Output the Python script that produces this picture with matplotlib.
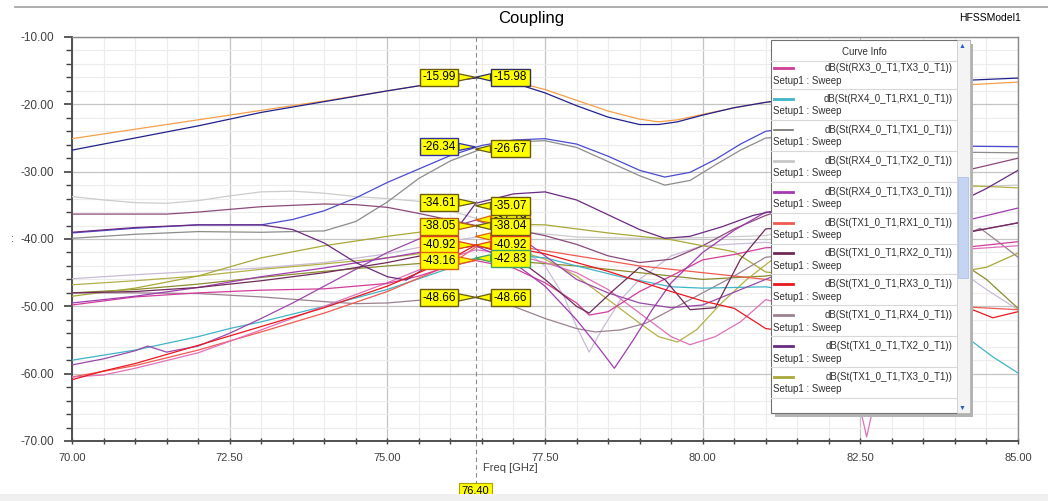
import matplotlib
matplotlib.use('agg')
import matplotlib.pyplot as plt
from matplotlib.patches import Rectangle

plt.rcParams['font.family'] = ['Liberation Sans', 'DejaVu Sans']

# --- curve data (freq GHz, dB) ---
f_orange = [70, 71, 72, 73, 74, 75, 76, 76.5, 77, 77.5, 78, 78.5, 79, 79.3, 79.6, 80, 80.5, 81, 82, 83, 84, 85]
db_orange = [-25.1, -23.7, -22.3, -20.9, -19.5, -18.0, -16.5, -16.0, -16.6, -17.8, -19.4, -21.0, -22.2, -22.6, -22.3,
             -21.5, -20.5, -19.7, -18.8, -17.9, -17.2, -16.7]

f_navy = [70, 71, 72, 73, 74, 75, 76, 76.5, 77, 77.5, 78, 78.5, 79, 79.3, 79.6, 80, 80.5, 81, 82, 83, 84, 85]
db_navy = [-26.8, -25.0, -23.2, -21.2, -19.6, -18.0, -16.5, -16.0, -16.8, -18.3, -20.2, -21.9, -23.0, -23.0, -22.6,
           -21.6, -20.5, -19.7, -18.4, -17.3, -16.5, -16.1]

f_blue = [70, 71, 72, 73, 73.5, 74, 74.5, 75, 75.5, 76, 76.5, 77, 77.5, 78, 78.5, 79, 79.4, 79.8, 80.2, 80.6, 81,
          81.5, 82, 83, 84, 85]
db_blue = [-39.1, -38.4, -37.9, -37.9, -37.1, -35.8, -33.9, -31.6, -29.6, -27.6, -26.1, -25.3, -25.1, -25.9, -27.7,
           -29.8, -30.8, -30.1, -28.2, -25.9, -24.0, -23.4, -23.9, -25.3, -26.2, -26.3]

f_gray = [70, 71, 72, 73, 74, 74.5, 75, 75.5, 76, 76.5, 77, 77.5, 78, 78.5, 79, 79.4, 79.8, 80.2, 80.6, 81, 81.5,
          82, 83, 84, 85]
db_gray = [-39.9, -39.3, -38.9, -39.0, -38.8, -37.4, -34.5, -31.0, -28.4, -26.6, -25.6, -25.4, -26.4, -28.5, -30.6,
           -32.0, -31.3, -29.0, -26.8, -25.0, -24.8, -25.5, -26.6, -27.1, -27.2]

f_rx4_tx2 = [70, 70.5, 71, 71.5, 72, 72.5, 73, 73.5, 74, 74.5, 75, 75.5, 76, 76.5, 77, 78, 79, 80, 81, 82, 83, 84, 85]
db_rx4_tx2 = [-33.7, -34.2, -34.6, -34.7, -34.3, -33.6, -33.0, -32.9, -33.2, -33.7, -34.0, -34.4, -35.8, -37.2,
              -38.8, -39.7, -39.9, -39.8, -39.5, -37.0, -34.0, -32.3, -32.0]

f_lav = [70, 71, 72, 73, 74, 75, 76, 76.5, 77, 77.5, 77.8, 78.0, 78.2, 78.4, 78.7, 79, 79.5, 80, 81, 82, 83, 84,
         84.5, 85]
db_lav = [-45.9, -45.3, -44.8, -44.3, -43.5, -42.2, -40.3, -39.6, -40.5, -44.0, -48.5, -53.0, -56.8, -53.5, -49.0,
          -46.0, -42.5, -41.0, -40.5, -41.5, -43.0, -44.2, -47.5, -50.5]

f_tx1_tx2 = [70, 71, 72, 73, 73.5, 74, 74.5, 75, 75.3, 75.6, 76, 76.4, 77, 77.5, 78, 78.5, 79, 79.4, 79.8, 80.3,
             80.8, 81.2, 82, 83, 84, 84.5, 85]
db_tx1_tx2 = [-39.0, -38.3, -37.9, -37.9, -38.6, -40.6, -43.5, -45.6, -46.1, -44.3, -39.8, -34.7, -33.3, -33.0,
              -34.2, -36.4, -38.6, -39.9, -39.6, -38.2, -36.5, -35.7, -35.5, -36.0, -34.8, -32.5, -29.8]

f_mauve = [70, 71, 71.5, 72, 73, 74, 74.5, 75, 75.5, 76, 76.4, 77, 77.5, 78, 78.5, 79, 79.5, 80, 80.5, 81, 82, 83,
           84, 85]
db_mauve = [-36.3, -36.3, -36.3, -36.0, -35.2, -34.8, -34.9, -35.3, -36.2, -37.2, -38.0, -38.6, -39.5, -40.8,
            -42.5, -43.5, -43.0, -41.0, -38.5, -36.5, -33.5, -31.5, -30.2, -28.0]

f_tx1_tx3 = [70, 71, 72, 73, 74, 75, 76, 76.4, 77, 77.5, 78.5, 79.5, 80.5, 81, 82, 83, 84, 84.5, 85]
db_tx1_tx3 = [-48.5, -47.3, -45.5, -42.8, -41.0, -39.6, -38.4, -38.0, -37.8, -37.9, -39.1, -40.1, -41.9, -44.9,
              -45.8, -45.5, -45.0, -44.2, -42.1]

f_olive2 = [70, 71, 72, 73, 74, 75, 76, 76.4, 77, 77.5, 78, 78.5, 79, 79.3, 79.6, 79.9, 80.3, 80.7, 81.1, 82, 83,
            84, 85]
db_olive2 = [-46.8, -46.2, -45.5, -44.5, -43.7, -42.8, -41.6, -40.9, -41.5, -43.0, -45.5, -49.0, -52.5, -54.5,
             -55.3, -53.5, -49.5, -46.0, -43.1, -38.0, -33.5, -32.0, -32.4]

f_olive3 = [70, 71, 72, 73, 74, 75, 76, 76.4, 77, 78, 79, 80, 81, 82, 83, 84, 84.5, 85]
db_olive3 = [-48.0, -47.5, -46.7, -45.7, -44.8, -44.0, -43.3, -43.0, -43.3, -44.0, -45.0, -46.0, -45.5, -44.0,
             -43.0, -42.9, -46.0, -50.3]

f_tx1_rx4 = [70, 71, 72, 73, 74, 74.5, 75, 75.5, 76, 76.4, 77, 77.5, 78, 78.3, 78.7, 79.1, 79.5, 80, 80.5, 81, 82,
             83, 84, 84.4, 84.7, 85]
db_tx1_rx4 = [-48.0, -48.0, -48.1, -48.6, -49.3, -49.6, -49.5, -49.1, -48.8, -48.7, -50.0, -51.8, -53.3, -53.8,
              -53.5, -52.5, -50.5, -48.0, -45.5, -42.7, -42.0, -41.5, -40.0, -38.4, -40.5, -42.7]

f_rx4_rx1 = [70, 71, 72, 72.5, 73, 74, 75, 76, 76.4, 77, 77.5, 78, 78.7, 79.5, 80, 81, 82, 83, 84.2, 84.6, 85]
db_rx4_rx1 = [-58.0, -56.5, -54.5, -53.3, -52.3, -50.0, -47.5, -44.3, -42.8, -42.4, -42.8, -44.0, -45.6, -47.1,
              -47.3, -47.1, -48.5, -51.0, -54.7, -57.5, -59.9]

f_tx1_rx3 = [70, 70.5, 71, 72, 73, 74, 75, 76, 76.4, 77, 77.5, 78, 78.5, 79, 79.5, 80, 80.5, 81, 82, 83, 84.2, 84.6,
             85]
db_tx1_rx3 = [-60.9, -59.6, -58.5, -55.8, -53.0, -50.2, -47.0, -43.0, -40.9, -41.3, -42.2, -43.5, -44.8, -46.3,
              -47.8, -49.2, -50.3, -53.3, -54.5, -52.5, -50.2, -51.7, -50.8]

f_tx1_rx1 = [70, 71, 72, 73, 74, 75, 76, 76.4, 77, 78, 79, 80, 81, 82, 83, 84, 85]
db_tx1_rx1 = [-60.5, -58.8, -56.5, -53.8, -51.0, -47.8, -43.8, -41.2, -41.0, -42.5, -44.0, -45.0, -46.0, -48.0,
              -49.5, -50.0, -50.5]

f_rx4_tx3 = [70, 71, 72, 73, 74, 75, 75.5, 76, 76.4, 77, 77.5, 78, 78.3, 78.6, 78.9, 79.2, 79.5, 80, 80.5, 81, 82,
             83, 84.2, 85]
db_rx4_tx3 = [-49.5, -48.5, -47.2, -45.6, -44.3, -42.8, -42.0, -41.5, -41.0, -43.5, -47.0, -52.0, -55.5, -59.2,
              -55.0, -50.5, -46.5, -42.0, -38.7, -36.0, -36.5, -37.0, -37.2, -35.4]

f_rx3_tx3 = [70, 71, 72, 73, 74, 75, 75.5, 76, 76.4, 77, 77.5, 78, 78.2, 78.5, 79, 79.5, 80, 80.5, 81, 82, 83, 84.2,
             85]
db_rx3_tx3 = [-49.8, -48.6, -48.0, -47.6, -47.4, -46.6, -45.5, -44.0, -43.2, -44.3, -46.5, -49.5, -51.3, -50.8,
              -47.8, -45.5, -43.1, -42.3, -41.3, -41.0, -41.0, -41.2, -40.4]

f_pink = [70, 70.5, 71, 72, 73, 74, 75, 75.5, 76, 76.4, 77, 77.5, 78, 78.5, 79, 79.5, 79.8, 80.2, 80.6, 81, 81.6,
          82.1, 82.4, 82.6, 82.8, 83.1, 83.6, 84.2, 85]
db_pink = [-60.5, -60.2, -59.2, -56.9, -53.5, -50.0, -46.5, -44.6, -42.8, -41.6, -42.3, -43.5, -45.0, -47.5, -51.0,
           -54.5, -55.7, -54.5, -52.3, -49.0, -50.5, -55.0, -61.0, -69.4, -61.0, -52.0, -45.0, -41.5, -41.0]

f_tx1_rx2 = [70, 71, 72, 73, 74, 75, 76, 76.4, 77, 77.5, 78, 78.2, 78.6, 79, 79.4, 79.8, 80.2, 80.6, 81, 82, 83,
             84.2, 85]
db_tx1_rx2 = [-48.0, -47.8, -47.2, -46.2, -45.0, -43.5, -41.6, -40.9, -42.5, -46.0, -50.0, -51.0, -47.5, -44.2,
              -46.0, -50.5, -50.2, -43.0, -38.5, -38.0, -38.5, -39.0, -37.6]

f_rx4_tx1 = [70, 70.5, 71, 71.2, 71.5, 72, 72.5, 73, 73.5, 74, 74.5, 75, 75.5, 76, 76.4, 77, 77.5, 78, 78.5, 79,
             79.5, 80, 81, 82, 83, 84.2, 85]
db_rx4_tx1 = [-58.7, -57.8, -56.6, -55.9, -56.8, -55.9, -54.0, -51.8, -49.5, -47.0, -44.5, -42.0, -40.0, -38.3,
              -37.2, -39.0, -42.5, -46.0, -48.0, -49.5, -50.2, -49.8, -46.0, -42.0, -40.0, -39.0, -37.6]

# marker readouts at 76.40 GHz
marker_freq = 76.40
left_vals = [-15.99, -26.34, -34.61, -38.05, -40.92, -43.16, -48.66]
right_vals = [-15.98, -26.67, -37.19, -39.62, -35.07, -38.04, -40.92, -42.83, -48.66]

legend_names = ['dB(St(RX3_0_T1,TX3_0_T1))', 'dB(St(RX4_0_T1,RX1_0_T1))', 'dB(St(RX4_0_T1,TX1_0_T1))',
                'dB(St(RX4_0_T1,TX2_0_T1))', 'dB(St(RX4_0_T1,TX3_0_T1))', 'dB(St(TX1_0_T1,RX1_0_T1))',
                'dB(St(TX1_0_T1,RX2_0_T1))', 'dB(St(TX1_0_T1,RX3_0_T1))', 'dB(St(TX1_0_T1,RX4_0_T1))',
                'dB(St(TX1_0_T1,TX2_0_T1))', 'dB(St(TX1_0_T1,TX3_0_T1))']
legend_colors = ['#d23c9a', '#40b4c8', '#707070', '#c8c8c8', '#a03cb0', '#f05a50',
                 '#6e2a58', '#e81820', '#9a8290', '#6a2a80', '#a8a838']

curves = [
    (f_rx4_tx2, db_rx4_tx2, '#cccccc'),
    (f_lav, db_lav, '#c8bcd6'),
    (f_gray, db_gray, '#8c8c8c'),
    (f_orange, db_orange, '#f5a04a'),
    (f_blue, db_blue, '#4a4ad0'),
    (f_navy, db_navy, '#22208c'),
    (f_mauve, db_mauve, '#8a4a7a'),
    (f_olive3, db_olive3, '#8c8c30'),
    (f_olive2, db_olive2, '#b4b048'),
    (f_tx1_tx3, db_tx1_tx3, '#a8a838'),
    (f_tx1_rx4, db_tx1_rx4, '#9a8290'),
    (f_rx4_rx1, db_rx4_rx1, '#40b4c8'),
    (f_tx1_rx1, db_tx1_rx1, '#f05a50'),
    (f_pink, db_pink, '#e070b8'),
    (f_rx3_tx3, db_rx3_tx3, '#d23c9a'),
    (f_rx4_tx1, db_rx4_tx1, '#9a4aa8'),
    (f_rx4_tx3, db_rx4_tx3, '#a03cb0'),
    (f_tx1_rx2, db_tx1_rx2, '#6e2a58'),
    (f_tx1_tx2, db_tx1_tx2, '#6a2a80'),
    (f_tx1_rx3, db_tx1_rx3, '#e81820'),
]

W, H = 1048, 501
fig = plt.figure(figsize=(W / 100, H / 100), dpi=100)
fig.patch.set_facecolor('white')
ax = fig.add_axes([72 / W, 1 - 441 / H, 946 / W, 404 / H])

for f, db, col in curves:
    ax.plot(f, db, color=col, lw=0.9, zorder=3)

ax.set_xlim(70, 85)
ax.set_ylim(-70, -10)
ax.set_xticks([70, 72.5, 75, 77.5, 80, 82.5, 85])
ax.set_xticks([70 + 0.5 * i for i in range(31)], minor=True)
ax.set_yticks(range(-70, -9, 10))
ax.set_yticks(range(-70, -9, 2), minor=True)
ax.xaxis.set_major_formatter(matplotlib.ticker.FormatStrFormatter('%.2f'))
ax.yaxis.set_major_formatter(matplotlib.ticker.FormatStrFormatter('%.2f'))
ax.grid(which='minor', color='#ececec', lw=0.8, zorder=0)
ax.grid(which='major', color='#c4c4c4', lw=0.9, zorder=0)
ax.set_axisbelow(True)
ax.tick_params(axis='y', which='major', length=6, width=1.2, pad=7, labelsize=8.5, colors='#404040')
ax.tick_params(axis='y', which='minor', length=4, width=1.0, colors='#404040')
ax.tick_params(axis='x', which='both', direction='inout', length=5, width=1.0, pad=6, labelsize=8, colors='#404040')
for side in ('left', 'bottom'):
    ax.spines[side].set_color('#505050')
    ax.spines[side].set_linewidth(1.4)
for side in ('top', 'right'):
    ax.spines[side].set_color('#8a8a8a')
    ax.spines[side].set_linewidth(1.0)

# marker line
ax.plot([marker_freq, marker_freq], [-10, -76.3], ls=(0, (4, 3)), color='#8a8a8a', lw=0.8,
        clip_on=False, zorder=4)
ax.text(marker_freq, -77.4, '%.2f' % marker_freq, ha='center', va='center', fontsize=8,
        bbox=dict(boxstyle='square,pad=0.25', fc='#ffff00', ec='#b0a000', lw=0.8), zorder=7, clip_on=False)

left_pos = [-16.0, -26.3, -34.6, -38.1, -40.9, -43.2, -48.7]
right_pos = [-16.0, -26.6, -36.95, -39.65, -35.1, -38.1, -40.9, -42.9, -48.7]
left_edge = ['#6a5a10', '#3030a0', '#6a5a10', '#b06010', '#e04010', '#e06010', '#6a5a10']
right_edge = ['#303060', '#6a5a10', '#e06010', '#e06010', '#6a5a10', '#6a5a10', '#e04010', '#40a060', '#6a5a10']

for v, p, ec in zip(left_vals, left_pos, left_edge):
    ax.annotate('%.2f' % v, xy=(marker_freq, v), xytext=(75.82, p), ha='center', va='center',
                fontsize=8.5, zorder=8,
                bbox=dict(boxstyle='square,pad=0.22', fc='#ffff00', ec=ec, lw=1.0),
                arrowprops=dict(arrowstyle='wedge,tail_width=0.6', fc='#ffff00', ec=ec, lw=0.9,
                                shrinkA=0, shrinkB=0))
for k, (v, p, ec) in enumerate(zip(right_vals, right_pos, right_edge)):
    ax.annotate('%.2f' % v, xy=(marker_freq, v), xytext=(76.95, p), ha='center', va='center',
                fontsize=8.5, zorder=7 if k in (2, 3) else 8,
                bbox=dict(boxstyle='square,pad=0.22', fc='#ffff00', ec=ec, lw=1.0),
                arrowprops=dict(arrowstyle='wedge,tail_width=0.6', fc='#ffff00', ec=ec, lw=0.9,
                                shrinkA=0, shrinkB=0))

ax.set_xlabel('Freq [GHz]', fontsize=8, color='#404040', labelpad=3)
ax.xaxis.set_label_coords((510 - 72) / 946, -0.055)

# overlay in pixel coordinates for window decorations and the curve info box
ov = fig.add_axes([0, 0, 1, 1], zorder=10)
ov.set_xlim(0, W)
ov.set_ylim(H, 0)
ov.axis('off')

ov.plot([15, W], [7, 7], color='#a0a0a0', lw=1.2)
ov.text(531, 18, 'Coupling', ha='center', va='center', fontsize=12)
ov.text(990, 18, 'HFSSModel1', ha='center', va='center', fontsize=7.5)
ov.text(13, 239, ':', ha='center', va='center', fontsize=8, color='#404040')
ov.add_patch(Rectangle((0, 494), W, 7, fc='#f0f0f0', ec='none'))

# curve info box
ov.add_patch(Rectangle((775, 44), 198, 373, fc='#b4b4b4', ec='none'))
ov.add_patch(Rectangle((771, 40), 199, 373, fc='white', ec='#707070', lw=0.8))
ov.add_patch(Rectangle((957, 40), 13, 373, fc='#f4f4f4', ec='#c0c0c0', lw=0.5))
ov.add_patch(Rectangle((958, 177), 10, 101, fc='#c4d4f2', ec='#a8bce0', lw=0.5))
ov.text(962.5, 46, '▲', ha='center', va='center', fontsize=5, color='#2a5cc8')
ov.text(962.5, 408, '▼', ha='center', va='center', fontsize=5, color='#2a5cc8')
ov.text(864, 52, 'Curve Info', ha='center', va='center', fontsize=7, color='#303030')
ov.plot([771, 957], [61, 61], color='#d8d8d8', lw=0.8)
for i, (name, col) in enumerate(zip(legend_names, legend_colors)):
    y = 68 + 30.9 * i
    ov.plot([774, 793], [y, y], color=col, lw=2.0 if i != 2 else 1.2)
    ov.text(953, y, name, ha='right', va='center', fontsize=7, color='#303030')
    ov.text(773, y + 12.5, 'Setup1 : Sweep', ha='left', va='center', fontsize=7, color='#303030')
    ov.plot([771, 957], [y + 21, y + 21], color='#d8d8d8', lw=0.8)

fig.savefig('out.png', dpi=100)
